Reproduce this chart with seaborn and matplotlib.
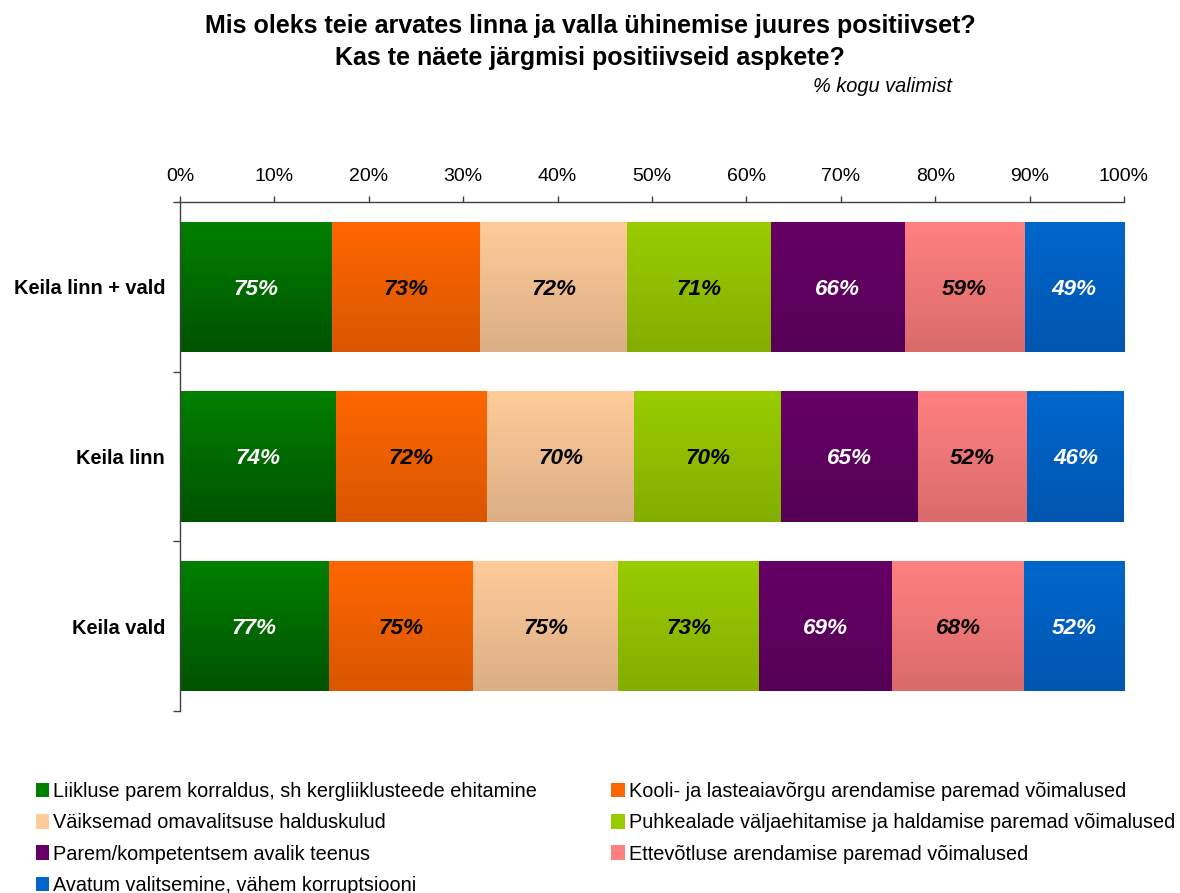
import numpy as np
import pandas as pd
import seaborn as sns
import matplotlib.pyplot as plt
from matplotlib.colors import LinearSegmentedColormap
from matplotlib.patches import Patch

# andmed
rows = ["Keila linn + vald", "Keila linn", "Keila vald"]
aspects = [
    "Liikluse parem korraldus, sh kergliiklusteede ehitamine",
    "Kooli- ja lasteaiavõrgu arendamise paremad võimalused",
    "Väiksemad omavalitsuse halduskulud",
    "Puhkealade väljaehitamise ja haldamise paremad võimalused",
    "Parem/kompetentsem avalik teenus",
    "Ettevõtluse arendamise paremad võimalused",
    "Avatum valitsemine, vähem korruptsiooni",
]
liiklus = [75, 74, 77]
kool = [73, 72, 75]
halduskulud = [72, 70, 75]
puhkealad = [71, 70, 73]
teenus = [66, 65, 69]
ettevotlus = [59, 52, 68]
valitsemine = [49, 46, 52]

top_colors = ["#008000", "#FF6600", "#FFCC99", "#99CC00", "#660066", "#FF8080", "#0066CC"]
bot_colors = ["#005300", "#D95700", "#DBAE85", "#83AE00", "#560057", "#DA6B6B", "#0056AF"]
text_colors = ["white", "black", "black", "black", "white", "black", "white"]

df = pd.DataFrame(
    np.array([liiklus, kool, halduskulud, puhkealad, teenus, ettevotlus, valitsemine]).T,
    index=rows, columns=aspects)
share = df.div(df.sum(axis=1), axis=0)

sns.set_style("white")
plt.rcParams['font.family'] = ['Liberation Sans', 'DejaVu Sans']
plt.rcParams['text.color'] = 'black'
plt.rcParams['xtick.color'] = 'black'
plt.rcParams['ytick.color'] = 'black'

fig = plt.figure(figsize=(11.8, 8.93), dpi=100)
ax = fig.add_axes([180 / 1180, 1 - 711 / 893, 944 / 1180, 509 / 893])

left = np.zeros(len(rows))
for i, col in enumerate(aspects):
    sns.barplot(x=share[col].values, y=rows, orient="h", left=left, color=top_colors[i],
                saturation=1, width=0.77, errorbar=None, ax=ax)
    left = left + share[col].values

# gradient + sildid
grad = np.linspace(0, 1, 100).reshape(-1, 1)
for i, cont in enumerate(ax.containers):
    cmap = LinearSegmentedColormap.from_list("g%d" % i, [top_colors[i], bot_colors[i]])
    for j, bar in enumerate(cont):
        x0, y0 = bar.get_x(), bar.get_y()
        w, h = bar.get_width(), bar.get_height()
        im = ax.imshow(grad, cmap=cmap, extent=[x0, x0 + w, y0 + h, y0],
                       aspect="auto", origin="upper", zorder=bar.get_zorder() + 0.1)
        im.set_clip_path(bar)
        ax.text(x0 + w / 2, y0 + h / 2, "%d%%" % df.iloc[j, i], ha="center",
                va="center_baseline", fontsize=16.2, fontweight="bold", fontstyle="italic",
                color=text_colors[i], zorder=5)

ax.set_xlim(0, 1)
ax.set_ylim(2.5, -0.5)
ax.set_xlabel("")
ax.set_ylabel("")

ax.xaxis.tick_top()
ax.set_xticks(np.linspace(0, 1, 11))
ax.set_xticklabels(["%d%%" % v for v in range(0, 101, 10)])
ax.tick_params(axis="x", which="major", top=True, bottom=False, length=4, width=1,
               color="#404040", pad=8.5, labelsize=14)

ax.set_yticks([-0.5, 0.5, 1.5, 2.5])
ax.set_yticklabels([])
ax.set_yticks([0, 1, 2], minor=True)
ax.set_yticklabels(rows, minor=True, fontweight="bold", fontsize=14.4)
ax.tick_params(axis="y", which="major", left=True, length=5, width=1, color="#404040")
ax.tick_params(axis="y", which="minor", left=True, length=0, pad=10.8)

for s in ["right", "bottom"]:
    ax.spines[s].set_visible(False)
for s in ["top", "left"]:
    ax.spines[s].set_color("#404040")
    ax.spines[s].set_linewidth(1)

fig.text(0.5, 1 - 26 / 893, "Mis oleks teie arvates linna ja valla ühinemise juures positiivset?",
         ha="center", va="center", fontsize=18, fontweight="bold")
fig.text(0.5, 1 - 58 / 893, "Kas te näete järgmisi positiivseid aspkete?",
         ha="center", va="center", fontsize=18, fontweight="bold")
fig.text(952 / 1180, 1 - 86 / 893, "% kogu valimist", ha="right", va="center",
         fontsize=14.4, fontstyle="italic")

# legend (ridade kaupa)
handles = [Patch(facecolor=top_colors[i], edgecolor="none") for i in range(len(aspects))]
order = [0, 2, 4, 6, 1, 3, 5]
fig.legend([handles[k] for k in order], [aspects[k] for k in order], ncol=2,
           loc="upper left", bbox_to_anchor=(36 / 1180, 1 - 782 / 893), frameon=False,
           fontsize=14.3, handlelength=0.66, handleheight=0.75, handletextpad=0.2,
           labelspacing=0.62, columnspacing=3.75, borderaxespad=0, borderpad=0)

fig.savefig("out.png", dpi=100)
